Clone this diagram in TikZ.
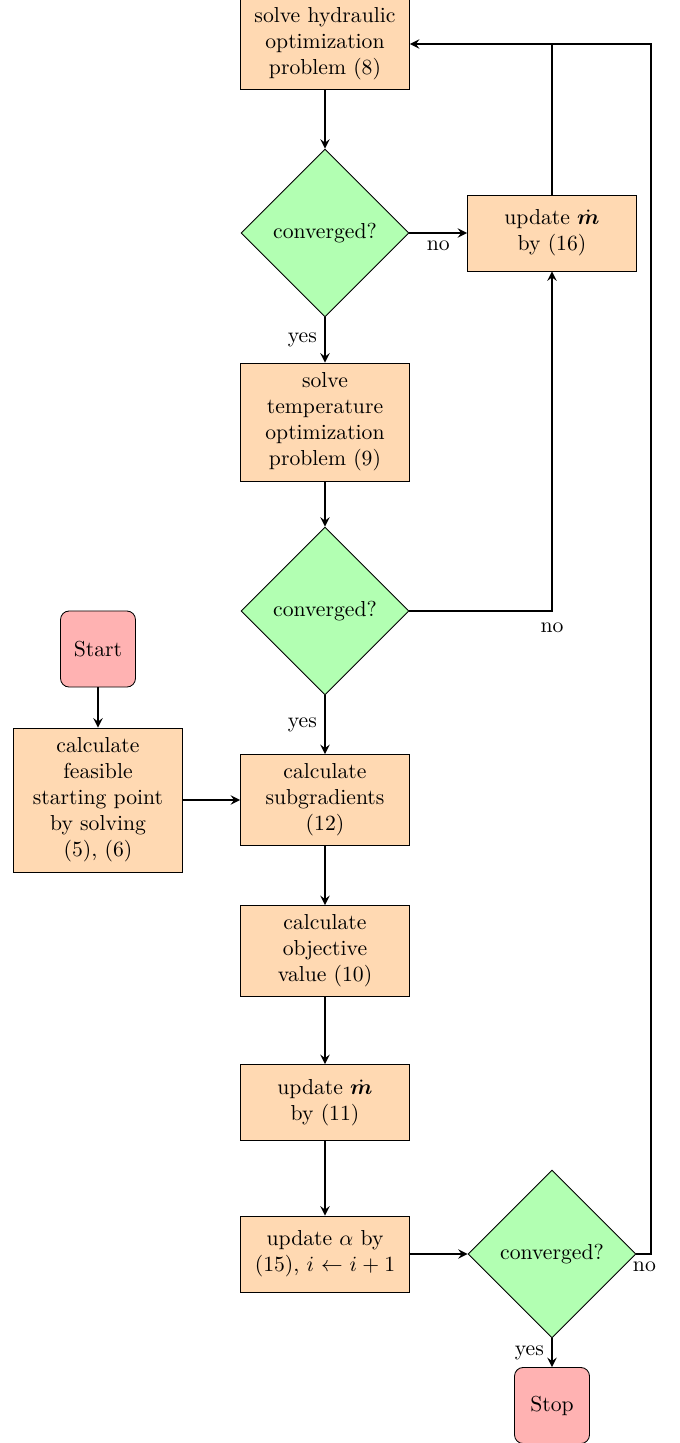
\documentclass[tikz,border=0pt]{standalone}
\usepackage{bm}
\usetikzlibrary{shapes.geometric,arrows}
\begin{document}
\begin{tikzpicture}[x=0.4615pt,y=-0.4615pt]
\tikzset{
 proc/.style={rectangle, draw=black, fill=orange!30, text width=71pt, minimum width=78pt, align=center, inner sep=3.33pt},
 dec/.style={diamond, draw=black, fill=green!30, aspect=1, minimum width=77.5pt, minimum height=77.5pt, inner sep=0pt, align=center},
 term/.style={rectangle, rounded corners, draw=black, fill=red!30, minimum width=34.6pt, minimum height=35.1pt, align=center},
 arr/.style={line width=0.9pt,->,>=stealth},
 lbl/.style={inner sep=3.33pt}
}
\useasboundingbox (0,0) rectangle (679,1443);
\node[proc, minimum height=42pt] (hyd) at (325,44) {solve hydraulic\\optimization\\problem (8)};
\node[dec] (d1) at (325,233) {converged?};
\node[proc, minimum height=35.1pt] (upd16) at (552,233) {update $\dot{\bm{m}}$\\by (16)};
\node[proc, minimum height=54.5pt] (temp) at (325,422) {solve\\temperature\\optimization\\problem (9)};
\node[dec] (d2) at (325,611) {converged?};
\node[term] (start) at (98,649) {Start};
\node[proc, minimum height=66.5pt] (feas) at (98,800) {calculate\\feasible\\starting point\\by solving\\(5), (6)};
\node[proc, minimum height=42pt] (sub) at (325,800) {calculate\\subgradients\\(12)};
\node[proc, minimum height=42pt] (obj) at (325,951) {calculate\\objective\\value (10)};
\node[proc, minimum height=35.1pt] (upd11) at (325,1102.5) {update $\dot{\bm{m}}$\\by (11)};
\node[proc, minimum height=35.1pt] (alpha) at (325,1254) {update $\alpha$ by\\(15), $i\leftarrow i+1$};
\node[dec] (d3) at (552,1254) {converged?};
\node[term] (stop) at (552,1405.5) {Stop};

\draw[arr] (hyd) -- (d1);
\draw[arr] (d1) -- node[lbl, below] {no} (upd16);
\draw[arr] (d1) -- node[lbl, left] {yes} (temp);
\draw[arr] (temp) -- (d2);
\draw[arr] (d2.east) -| node[lbl, pos=0.5, below, yshift=-1.5pt] {no} (upd16.south);
\draw[line width=0.9pt] (upd16.north) -- (upd16.north |- hyd.east);
\draw[arr] (d2) -- node[lbl, left] {yes} (sub);
\draw[arr] (start) -- (feas);
\draw[arr] (feas) -- (sub);
\draw[arr] (sub) -- (obj);
\draw[arr] (obj) -- (upd11);
\draw[arr] (upd11) -- (alpha);
\draw[arr] (alpha) -- (d3);
\draw[arr] (d3.east) -- node[pos=0, inner sep=0pt, xshift=3.7pt, yshift=-6pt] {no} ++(15,0) |- (hyd.east);
\draw[arr] (d3) -- node[lbl, left] {yes} (stop);
\end{tikzpicture}
\end{document}
